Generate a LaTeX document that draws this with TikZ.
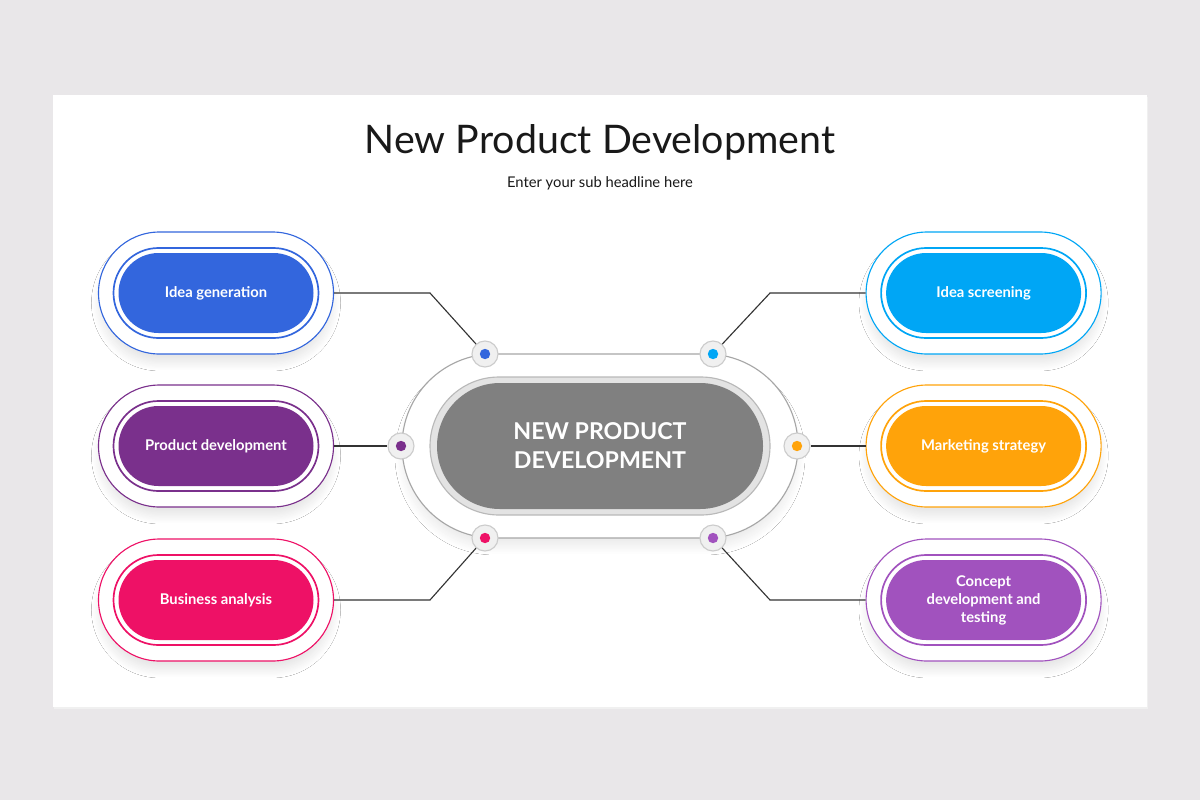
\documentclass[tikz,border=0pt]{standalone}
\usepackage{fontspec}
\setmainfont{Lato}
\usetikzlibrary{shadows.blur}
\definecolor{genblue}{RGB}{51,102,221}
\definecolor{devpurple}{RGB}{122,48,140}
\definecolor{bizpink}{RGB}{238,17,102}
\definecolor{screenblue}{RGB}{0,166,245}
\definecolor{mktorange}{RGB}{255,163,10}
\definecolor{conceptpurple}{RGB}{161,82,190}
\definecolor{pagegray}{RGB}{233,231,233}
\definecolor{linegray}{RGB}{51,51,51}
\definecolor{hubgray}{RGB}{128,128,128}
\begin{document}
\begin{tikzpicture}[
    outer pill/.style={draw=#1,line width=0.8pt,fill=white,rounded corners=1.525cm,
      minimum width=5.875cm,minimum height=3.05cm,
      blur shadow={shadow xshift=0pt,shadow yshift=-7pt,shadow blur radius=5pt,
        shadow blur steps=20,shadow opacity=9}},
    pill rim/.style={draw=#1,line width=1.2pt,fill=white,rounded corners=1.125cm,
      minimum width=5.125cm,minimum height=2.25cm},
    pill label/.style={fill=#1,rounded corners=1cm,minimum width=4.875cm,minimum height=2cm,
      text=white,align=center,font=\bfseries\fontsize{10.5}{12.8}\selectfont},
    knob/.style={circle,fill=gray!12,draw=gray!40,line width=0.8pt,minimum size=0.65cm,inner sep=0pt},
    dot/.style={circle,fill=#1,minimum size=0.26cm,inner sep=0pt},
    link/.style={draw=linegray,line width=0.8pt}
  ]
  \fill[pagegray] (0,0) rectangle (30,-20);
  \useasboundingbox (0,0) rectangle (30,-20);
  \fill[black!6] (1.35,-2.42) rectangle (28.7,-17.72);
  \fill[white] (1.325,-2.375) rectangle (28.675,-17.675);

  \node[text=black!90,font=\fontsize{28}{33}\selectfont] (title) at (15,-3.55) {New Product Development};
  \node[text=black!90,font=\fontsize{10.5}{12}\selectfont] (subtitle) at (15,-4.575) {Enter your sub headline here};

  \node[draw=gray!70,line width=0.8pt,fill=white,rounded corners=2.3cm,minimum width=9.9cm,minimum height=4.6cm,
        blur shadow={shadow xshift=0pt,shadow yshift=-7pt,shadow blur radius=5pt,shadow blur steps=20,shadow opacity=7}] (hub) at (15,-11.15) {};
  \node[draw=gray!55,line width=0.8pt,fill=gray!22,rounded corners=1.725cm,minimum width=8.5cm,minimum height=3.45cm] (hub-rim) at (15,-11.15) {};
  \node[fill=hubgray,rounded corners=1.575cm,minimum width=8.15cm,minimum height=3.15cm,
        text=white,align=center,font=\bfseries\fontsize{16.5}{20.6}\selectfont] (hub-label) at (15,-11.15) {NEW PRODUCT\\DEVELOPMENT};

  \node[knob] (k1) at (12.125,-8.85) {};
  \node[knob] (k2) at (10.025,-11.15) {};
  \node[knob] (k3) at (12.125,-13.45) {};
  \node[knob] (k4) at (17.825,-8.85) {};
  \node[knob] (k5) at (19.925,-11.15) {};
  \node[knob] (k6) at (17.825,-13.45) {};
  \node[dot=genblue] (d1) at (k1) {};
  \node[dot=devpurple] (d2) at (k2) {};
  \node[dot=bizpink] (d3) at (k3) {};
  \node[dot=screenblue] (d4) at (k4) {};
  \node[dot=mktorange] (d5) at (k5) {};
  \node[dot=conceptpurple] (d6) at (k6) {};

  \node[outer pill=genblue] (gen) at (5.4,-7.325) {};
  \node[pill rim=genblue] (gen-rim) at (gen) {};
  \node[pill label=genblue] (gen-label) at (gen) {Idea generation};
  \node[outer pill=devpurple] (dev) at (5.4,-11.15) {};
  \node[pill rim=devpurple] (dev-rim) at (dev) {};
  \node[pill label=devpurple] (dev-label) at (dev) {Product development};
  \node[outer pill=bizpink] (biz) at (5.4,-15) {};
  \node[pill rim=bizpink] (biz-rim) at (biz) {};
  \node[pill label=bizpink] (biz-label) at (biz) {Business analysis};
  \node[outer pill=screenblue] (screen) at (24.59,-7.325) {};
  \node[pill rim=screenblue] (screen-rim) at (screen) {};
  \node[pill label=screenblue] (screen-label) at (screen) {Idea screening};
  \node[outer pill=mktorange] (mkt) at (24.59,-11.15) {};
  \node[pill rim=mktorange] (mkt-rim) at (mkt) {};
  \node[pill label=mktorange] (mkt-label) at (mkt) {Marketing strategy};
  \node[outer pill=conceptpurple] (concept) at (24.59,-15) {};
  \node[pill rim=conceptpurple] (concept-rim) at (concept) {};
  \node[pill label=conceptpurple] (concept-label) at (concept) {Concept\\development and\\testing};

  \coordinate (b1) at (10.75,-7.325);
  \coordinate (b3) at (10.75,-15);
  \coordinate (b4) at (19.25,-7.325);
  \coordinate (b6) at (19.25,-15);
  \draw[link] (gen.east) -- (b1) -- (k1);
  \draw[link] (dev.east) -- (k2);
  \draw[link] (biz.east) -- (b3) -- (k3);
  \draw[link] (screen.west) -- (b4) -- (k4);
  \draw[link] (mkt.west) -- (k5);
  \draw[link] (concept.west) -- (b6) -- (k6);
\end{tikzpicture}
\end{document}
